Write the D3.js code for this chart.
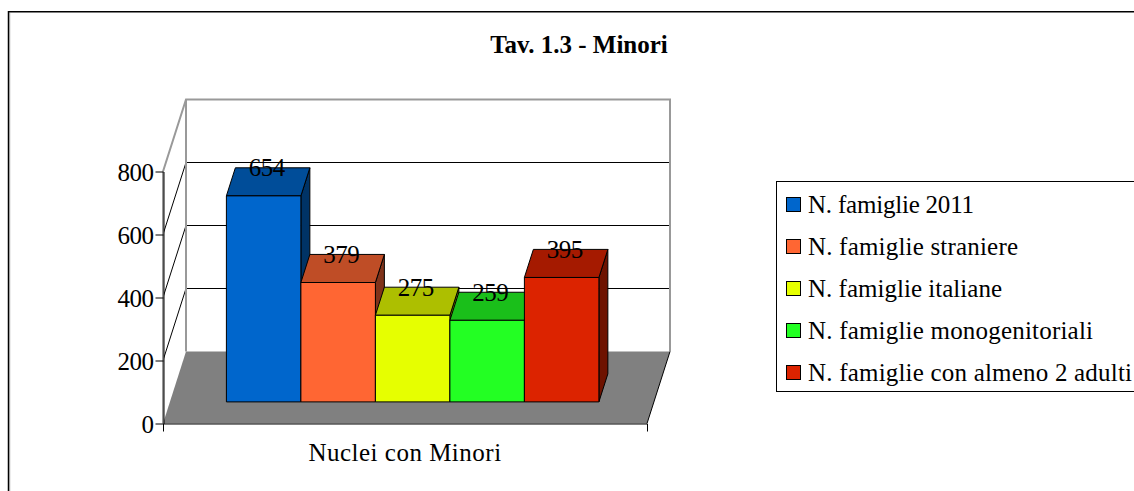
<!DOCTYPE html>
<html>
<head>
<meta charset="utf-8">
<script src="https://d3js.org/d3.v7.min.js"></script>
<style>
  html, body { margin: 0; padding: 0; background: #fff; overflow: hidden; }
  text { font-family: "Liberation Serif", serif; fill: #000; }
  .axis text { font-size: 25px; }
  .axis path, .axis line { stroke: #000; }
</style>
</head>
<body>
<div id="wrapper"></div>
<script>
const chartTitle = "Tav. 1.3 - Minori"
const category = ["Nuclei con Minori"]
const series = ["N. famiglie 2011", "N. famiglie straniere", "N. famiglie italiane", "N. famiglie monogenitoriali", "N. famiglie con almeno 2 adulti"]
const values = [654, 379, 275, 259, 395]
const colors = ["#0066cc", "#ff6633", "#e6ff00", "#23ff23", "#dc2300"]
const yTicks = [0, 200, 400, 600, 800]

const wrapper = d3.select("#wrapper")
  .append("svg")
    .attr("width", 1134)
    .attr("height", 491)

// outer frame, with the grey shadow line inside its left edge
wrapper.append("rect")
  .attr("x", 8.5)
  .attr("y", 11.75)
  .attr("width", 1140)
  .attr("height", 500)
  .attr("fill", "#fff")
  .attr("stroke", "#000")
  .attr("stroke-width", 1.5)
wrapper.append("line")
  .attr("x1", 9.7)
  .attr("x2", 9.7)
  .attr("y1", 13)
  .attr("y2", 491)
  .attr("stroke", "#999")

wrapper.append("text")
  .attr("x", 579)
  .attr("y", 53)
  .attr("text-anchor", "middle")
  .style("font-size", "25px")
  .style("font-weight", "bold")
  .text(chartTitle)

// scales: x across the front plane, y up the front plane, z is depth 0..1
const xScale = d3.scaleBand().domain(category).range([163, 647])
const yScale = d3.scaleLinear().domain([0, 800]).range([423.5, 171.5])
const seriesScale = d3.scaleBand().domain(series).range([219.5, 592])
const depthX = d3.scaleLinear().domain([0, 1]).range([0, 23])
const depthY = d3.scaleLinear().domain([0, 1]).range([0, -72])

const project = (x, v, z) => [x + depthX(z), yScale(v) + depthY(z)]
const polyLine = d3.line().curve(d3.curveLinearClosed)
const xLeft = xScale.range()[0]
const xRight = xScale.range()[1]

const bounds = wrapper.append("g")

// back wall
bounds.append("path")
  .attr("d", polyLine([project(xLeft, 800, 1), project(xRight, 800, 1), project(xRight, 0, 1), project(xLeft, 0, 1)]))
  .attr("fill", "#fff")

// floor
bounds.append("path")
  .attr("d", polyLine([project(xLeft, 0, 0), project(xRight, 0, 0), project(xRight, 0, 1), project(xLeft, 0, 1)]))
  .attr("fill", "#808080")

// grid lines over wall and side
yTicks.slice(1, -1).forEach(t => {
  bounds.append("path")
    .attr("d", d3.line()([project(xLeft, t, 0), project(xLeft, t, 1), project(xRight, t, 1)]))
    .attr("fill", "none")
    .attr("stroke", "#000")
})

// wall outlines
bounds.append("path")
  .attr("d", d3.line()([project(xLeft, 800, 0), project(xLeft, 800, 1), project(xRight, 800, 1), project(xRight, 0, 1)]))
  .attr("fill", "none")
  .attr("stroke", "#999")
  .attr("stroke-width", 2)
bounds.append("path")
  .attr("d", d3.line()([project(xLeft, 800, 1), project(xLeft, 0, 1)]))
  .attr("fill", "none")
  .attr("stroke", "#999")
  .attr("stroke-width", 2)
bounds.append("path")
  .attr("d", d3.line()([project(xLeft, 800, 0), project(xLeft, 0, 0)]))
  .attr("fill", "none")
  .attr("stroke", "#999")
  .attr("stroke-width", 2)
bounds.append("path")
  .attr("d", d3.line()([project(xRight, 0, 0), project(xRight, 0, 1)]))
  .attr("fill", "none")
  .attr("stroke", "#000")

// bars
const zFront = 0.3
const zBack = 0.69
const darker = (c, k) => {
  const rgb = d3.rgb(c)
  return d3.rgb(rgb.r * k, rgb.g * k, rgb.b * k).formatHex()
}

const barGroups = bounds.selectAll(".bar")
  .data(series)
  .enter().append("g")
    .attr("class", "bar")

barGroups.each(function(s, i) {
  const g = d3.select(this)
  const x0 = seriesScale(s)
  const x1 = x0 + seriesScale.bandwidth()
  const v = values[i]
  g.append("path")
    .attr("d", polyLine([project(x1, 0, zFront), project(x1, v, zFront), project(x1, v, zBack), project(x1, 0, zBack)]))
    .attr("fill", darker(colors[i], 0.5))
    .attr("stroke", "#000")
  g.append("path")
    .attr("d", polyLine([project(x0, v, zFront), project(x1, v, zFront), project(x1, v, zBack), project(x0, v, zBack)]))
    .attr("fill", darker(colors[i], 0.75))
    .attr("stroke", "#000")
  g.append("path")
    .attr("d", polyLine([project(x0, 0, zFront), project(x1, 0, zFront), project(x1, v, zFront), project(x0, v, zFront)]))
    .attr("fill", colors[i])
    .attr("stroke", "#000")
})

barGroups.append("text")
  .attr("x", (s, i) => project(seriesScale(s) + seriesScale.bandwidth() / 2, values[i], (zFront + zBack) / 2)[0] - 1.5)
  .attr("y", (s, i) => project(0, values[i], (zFront + zBack) / 2)[1] - 5.5)
  .attr("text-anchor", "middle")
  .style("font-size", "25px")
  .style("letter-spacing", "-0.5px")
  .text((s, i) => values[i])

// axes
const yAxisGenerator = d3.axisLeft()
  .scale(yScale)
  .tickValues(yTicks)
  .tickSizeOuter(0)
  .tickSizeInner(8)
  .tickPadding(2)

const yAxis = wrapper.append("g")
  .attr("class", "axis")
  .attr("transform", `translate(${xLeft + 0.5},0)`)
  .call(yAxisGenerator)
yAxis.selectAll("text")
  .style("letter-spacing", "-0.5px")
  .attr("y", 1)

const xAxisGenerator = d3.axisBottom()
  .scale(xScale)
  .tickSizeInner(0)
  .tickSizeOuter(8)
  .tickPadding(20)

const xAxis = wrapper.append("g")
  .attr("class", "axis")
  .attr("transform", `translate(0,${yScale(0)})`)
  .call(xAxisGenerator)
xAxis.selectAll("text").style("letter-spacing", "0.5px")

// legend
const legendY = d3.scalePoint().domain(series).range([204, 372])
const legendTextWidths = [166, 210, 194, 285, 324]

wrapper.append("rect")
  .attr("x", 776.5)
  .attr("y", 181.5)
  .attr("width", 400)
  .attr("height", 210)
  .attr("fill", "#fff")
  .attr("stroke", "#000")

const legendItems = wrapper.selectAll(".legend")
  .data(series)
  .enter().append("g")
    .attr("class", "legend")
    .attr("transform", s => `translate(0,${legendY(s)})`)

legendItems.append("rect")
  .attr("x", 786.5)
  .attr("y", -6.5)
  .attr("width", 14)
  .attr("height", 14)
  .attr("fill", (s, i) => colors[i])
  .attr("stroke", "#000")

legendItems.append("text")
  .attr("x", 808)
  .attr("y", 8.5)
  .attr("textLength", (s, i) => legendTextWidths[i])
  .attr("lengthAdjust", "spacing")
  .style("font-size", "25px")
  .text(s => s)
</script>
</body>
</html>
